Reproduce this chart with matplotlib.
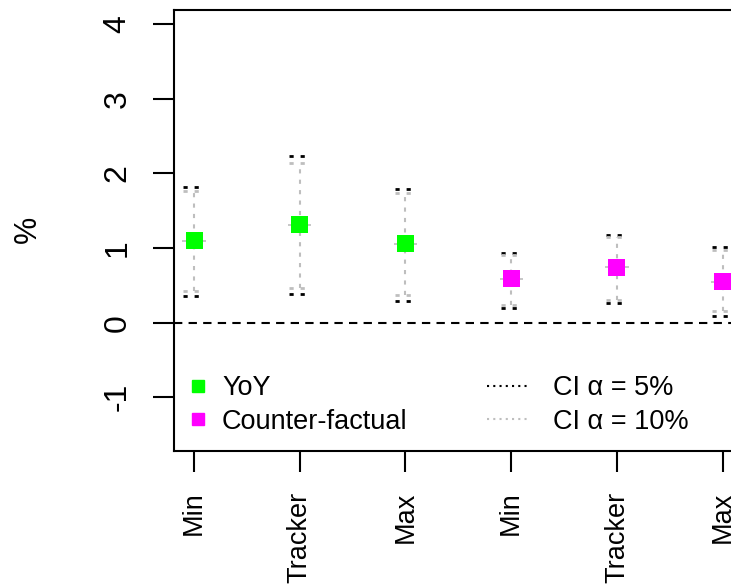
import matplotlib
matplotlib.use("Agg")
import matplotlib.pyplot as plt
from matplotlib.lines import Line2D

plt.rcParams['font.family'] = ['Liberation Sans', 'DejaVu Sans']

# Datos
etiquetas = ["Min", "Tracker", "Max", "Min", "Tracker", "Max"]
estimado = [1.10, 1.31, 1.06, 0.59, 0.74, 0.55]
ci5_bajo = [0.36, 0.385, 0.295, 0.20, 0.27, 0.094]
ci5_alto = [1.82, 2.23, 1.79, 0.93, 1.18, 1.01]
ci10_bajo = [0.43, 0.47, 0.37, 0.23, 0.30, 0.15]
ci10_alto = [1.76, 2.14, 1.74, 0.90, 1.15, 0.98]
colores = ["#00FF00", "#00FF00", "#00FF00", "#FF00FF", "#FF00FF", "#FF00FF"]

gris = "#BEBEBE"
fs = 19.5
x = list(range(1, len(estimado) + 1))

fig = plt.figure(figsize=(7.31, 5.88), dpi=100)
# el grafico original esta recortado a la derecha
ax = fig.add_axes([0.238, 0.233, 0.778, 0.750])

# linea de referencia en cero
ax.axhline(0, color="black", linestyle=(0, (4, 3)), linewidth=1.5, zorder=1)

cap = 0.1
punteado = (0, (1.5, 2.5))
ax.vlines(x, ci10_bajo, ci10_alto, colors=gris, linestyles=(0, (2, 3)), linewidth=1.5, zorder=2)
ax.hlines(ci5_bajo, [v - cap for v in x], [v + cap for v in x], colors="black",
          linestyles=punteado, linewidth=2, zorder=3)
ax.hlines(ci5_alto, [v - cap for v in x], [v + cap for v in x], colors="black",
          linestyles=punteado, linewidth=2, zorder=3)
ax.hlines(ci10_bajo, [v - cap for v in x], [v + cap for v in x], colors=gris,
          linestyles=punteado, linewidth=2, zorder=3)
ax.hlines(ci10_alto, [v - cap for v in x], [v + cap for v in x], colors=gris,
          linestyles=punteado, linewidth=2, zorder=3)
ax.hlines(estimado, [v - 0.11 for v in x], [v + 0.11 for v in x], colors=gris, linewidth=1.2, zorder=3)
ax.scatter(x, estimado, marker="s", s=150, c=colores, zorder=4, linewidths=0)

ax.set_xlim(0.81, 6.19)
ax.set_ylim(-1.72, 4.19)
ax.set_xticks(x)
ax.set_xticklabels(etiquetas, rotation=90, fontsize=fs)
ax.set_yticks([-1, 0, 1, 2, 3, 4])
ax.set_yticklabels(["-1", "0", "1", "2", "3", "4"], rotation=90, va="center", fontsize=23)
ax.tick_params(length=15, width=1.5, pad=14)
ax.tick_params(axis="y", pad=15)
for s in ax.spines.values():
    s.set_linewidth(1.5)

fig.text(0.038, 0.61, "%", rotation=90, ha="center", va="center", fontsize=22)

# leyendas
h1 = [Line2D([], [], marker="s", linestyle="none", color="#00FF00", markersize=8),
      Line2D([], [], marker="s", linestyle="none", color="#FF00FF", markersize=8)]
leg1 = ax.legend(h1, ["YoY", "Counter-factual"], loc="upper left", frameon=False,
                 fontsize=fs, bbox_to_anchor=(187 / 731, 0.362), bbox_transform=fig.transFigure,
                 handlelength=0.8, handletextpad=0.49, labelspacing=0.28,
                 borderaxespad=0, borderpad=0)
ax.add_artist(leg1)
h2 = [Line2D([], [], color="black", linestyle=(0, (1, 2)), linewidth=1.5),
      Line2D([], [], color=gris, linestyle=(0, (1, 2)), linewidth=1.5)]
ax.legend(h2, ["CI α = 5%", "CI α = 10%"], loc="upper left", frameon=False,
          fontsize=fs, bbox_to_anchor=(487 / 731, 0.362), bbox_transform=fig.transFigure,
          handlelength=1.51, handletextpad=0.92, labelspacing=0.28,
          borderaxespad=0, borderpad=0)

fig.savefig("out.png", dpi=100)
